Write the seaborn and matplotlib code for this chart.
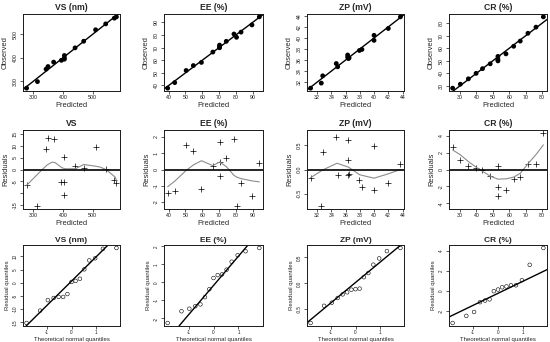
import numpy as np
import matplotlib
matplotlib.use("Agg")
import matplotlib.pyplot as plt
import seaborn as sns

# panel titles
top_titles = ["VS (nm)", "EE (%)", "ZP (mV)", "CR (%)"]
mid_titles = ["VS", "EE (%)", "ZP (mV)", "CR (%)"]

# predicted / observed / residual values
vs_pred = [278, 314.5, 343.6, 350, 369, 395, 405, 405, 405, 441, 470, 510, 544, 573, 580]
vs_obs = [271.4, 299.2, 352.1, 363.2, 381.9, 389.6, 399.6, 394.4, 410.1, 442.5, 470.7, 519.3, 544.3, 568.7, 574.2]
vs_res = [-6.6, -15.3, 8.5, 13.2, 12.9, -5.4, -5.4, -10.6, 5.1, 1.5, 0.7, 9.3, 0.3, -4.3, -5.8]

ee_pred = [39.4, 43.6, 50.4, 54.7, 59.5, 66.3, 70.3, 70.3, 70.3, 74.3, 78.9, 80.4, 83.1, 89.6, 94.0]
ee_obs = [37.9, 42.3, 51.9, 55.8, 58.3, 66.5, 72.0, 70.7, 69.9, 75.0, 80.8, 78.2, 82.3, 88.0, 94.4]
ee_res = [-1.46, -1.32, 1.50, 1.14, -1.22, 0.24, 1.72, 0.44, -0.38, 0.70, 1.90, -2.25, -0.82, -1.60, 0.40]

zp_pred = [31.1, 32.6, 32.8, 34.7, 34.9, 36.3, 36.3, 36.4, 36.5, 37.95, 38.3, 40.0, 40.0, 42.0, 43.7]
zp_obs = [30.93, 31.84, 33.16, 35.38, 34.79, 36.92, 36.5, 36.28, 36.4, 37.74, 37.93, 40.48, 39.57, 41.72, 43.82]
zp_res = [-0.17, -0.76, 0.36, 0.68, -0.11, 0.62, 0.20, -0.12, -0.10, -0.21, -0.37, 0.48, -0.43, -0.28, 0.12]

cr_pred = [25.5, 30.2, 35.1, 39.8, 43.7, 48.4, 53.1, 53.1, 53.1, 58.0, 62.7, 66.7, 71.4, 76.3, 80.8]
cr_obs = [28.13, 31.3, 35.57, 39.96, 43.7, 47.58, 53.49, 51.02, 49.92, 55.53, 61.6, 65.76, 71.99, 76.89, 85.11]
cr_res = [2.63, 1.10, 0.47, 0.16, 0.0, -0.82, 0.39, -2.08, -3.18, -2.47, -1.10, -0.94, 0.59, 0.59, 4.31]

# smoother traced in the residual panels
vs_smooth_x = [278, 302, 330, 347, 364, 375, 397, 408, 442, 470, 509, 526, 546, 576, 580]
vs_smooth_y = [-6.6, -3.6, -0.1, 1.9, 3.1, 2.8, 0.7, 0.3, 0.3, 2.1, 1.4, 1.0, -0.1, -3.2, -4.5]
ee_smooth_x = [39.4, 43.6, 50.4, 54.7, 59.5, 66.3, 70.3, 74.3, 78.9, 80.4, 83.1, 89.6, 94.0]
ee_smooth_y = [-1.06, -0.72, -0.06, 0.28, 0.54, 0.24, 0.46, 0.18, -0.36, -0.46, -0.56, -0.70, -0.76]
zp_smooth_x = [31.1, 32.8, 34.8, 36.4, 38.0, 40.0, 42.0, 43.7]
zp_smooth_y = [-0.17, -0.01, 0.13, 0.05, -0.11, -0.18, -0.09, 0.0]
cr_smooth_x = [25.5, 30.2, 35.1, 39.8, 43.7, 48.4, 53.1, 58.0, 62.7, 66.7, 71.4, 76.3, 80.8]
cr_smooth_y = [2.31, 1.73, 0.94, 0.27, -0.2, -0.78, -1.14, -1.10, -0.90, -0.45, 0.67, 1.76, 2.9]

# theoretical normal quantiles for 15 runs
qq_theory = [-1.834, -1.282, -0.967, -0.728, -0.524, -0.341, -0.168, 0.0,
             0.168, 0.341, 0.524, 0.728, 0.967, 1.282, 1.834]

# ticks
pred_ticks = [[300, 400, 500], [40, 50, 60, 70, 80, 90],
              [32, 34, 36, 38, 40, 42, 44], [30, 40, 50, 60, 70, 80]]
res_ticks = [[-15, -10, -5, 0, 5, 10, 15], [-2, -1, 0, 1, 2], [-0.5, 0.0, 0.5], [-4, -2, 0, 2, 4]]
res_labels = [["-15", "", "-5", "0", "5", "10", "15"], ["-2", "-1", "0", "1", "2"],
              ["-0.5", "0.0", "0.5"], ["-4", "-2", "0", "2", "4"]]
qq_yticks = [[-15, -10, -5, 0, 5, 10], [-2, -1, 0, 1, 2], [-0.5, 0.0, 0.5], [-2, 0, 2, 4]]
qq_ylabels = [["-15", "-10", "-5", "0", "5", "10"], ["-2", "-1", "0", "1", "2"],
              ["-0.5", "0.0", "0.5"], ["-2", "0", "2", "4"]]
qq_xticks = [-1, 0, 1]

preds = [vs_pred, ee_pred, zp_pred, cr_pred]
obss = [vs_obs, ee_obs, zp_obs, cr_obs]
ress = [vs_res, ee_res, zp_res, cr_res]
smooth_x = [vs_smooth_x, ee_smooth_x, zp_smooth_x, cr_smooth_x]
smooth_y = [vs_smooth_y, ee_smooth_y, zp_smooth_y, cr_smooth_y]

sns.set_theme(style="ticks")
plt.rcParams['font.family'] = ['Liberation Sans', 'DejaVu Sans']
plt.rcParams['axes.unicode_minus'] = False

fig = plt.figure(figsize=(5.5, 3.42), dpi=100)
W, H = 550, 342
col_left = [23, 164, 307, 449]
col_width = [97, 99, 97, 98]
row_top = [14, 130, 245]
row_height = [77, 79, 81]


def add_panel(r, c):
    l = col_left[c] / W
    b = 1 - (row_top[r] + row_height[r]) / H
    return fig.add_axes([l, b, col_width[c] / W, row_height[r] / H])


def pad_range(vals, frac=0.04):
    lo, hi = min(vals), max(vals)
    d = (hi - lo) * frac
    return lo - d, hi + d


def style(ax, fs):
    for s in ax.spines.values():
        s.set_visible(True)
        s.set_linewidth(0.7)
        s.set_color('#1a1a1a')
    ax.tick_params(length=2, width=0.5, colors='#1a1a1a', labelsize=fs)
    ax.tick_params(axis='x', pad=1)
    ax.tick_params(axis='y', pad=2)


for c in range(4):
    pred, obs, res = preds[c], obss[c], ress[c]

    # row 1: observed vs predicted
    ax = add_panel(0, c)
    sns.scatterplot(x=pred, y=obs, ax=ax, color='black', s=12, edgecolor='none')
    ax.set_xlim(*pad_range(pred))
    ax.set_ylim(*pad_range(obs))
    ax.axline((0, 0), slope=1, color='black', lw=1.0)
    ax.set_xticks(pred_ticks[c])
    ax.set_yticks(pred_ticks[c], labels=[str(t) for t in pred_ticks[c]], rotation=90, va='center')
    style(ax, 3.8)
    ax.set_title(top_titles[c], fontsize=6.2, fontweight='bold', pad=3)
    ax.set_xlabel("Predicted", fontsize=5.4, labelpad=1.5)
    ax.set_ylabel("Observed", fontsize=5.4, labelpad=2.5)

    # row 2: residuals vs predicted
    ax = add_panel(1, c)
    m = max(abs(v) for v in res) * 1.08
    sns.scatterplot(x=pred, y=res, ax=ax, color='black', marker='+', s=16, linewidth=0.5)
    sns.lineplot(x=smooth_x[c], y=smooth_y[c], ax=ax, color='#8c8c8c', lw=0.8,
                 sort=False, estimator=None)
    ax.axhline(0, color='black', lw=1.2)
    ax.set_xlim(*pad_range(pred))
    ax.set_ylim(-m, m)
    ax.set_xticks(pred_ticks[c])
    ax.set_yticks(res_ticks[c], labels=res_labels[c], rotation=90, va='center')
    style(ax, 3.8)
    ax.set_title(mid_titles[c], fontsize=6.2, fontweight='bold', pad=3)
    ax.set_xlabel("Predicted", fontsize=5.4, labelpad=1.5)
    ax.set_ylabel("Residuals", fontsize=5.4, labelpad=2.5)

    # row 3: normal Q-Q of residuals
    ax = add_panel(2, c)
    sample = np.sort(res)
    sns.scatterplot(x=qq_theory, y=sample, ax=ax, s=7, marker='o',
                    facecolor='none', edgecolor='black', linewidth=0.4)
    q1, q3 = np.percentile(res, [25, 75])
    slope = (q3 - q1) / (2 * 0.6745)
    ax.set_xlim(*pad_range(qq_theory))
    ax.set_ylim(*pad_range(sample))
    ax.axline((0, q1 + 0.6745 * slope), slope=slope, color='black', lw=1.0)
    ax.set_xticks(qq_xticks)
    ax.set_yticks(qq_yticks[c], labels=qq_ylabels[c], rotation=90, va='center')
    style(ax, 3.3)
    ax.set_title(top_titles[c], fontsize=6.0, fontweight='bold', pad=2.5)
    ax.set_xlabel("Theoretical normal quantiles", fontsize=4.3, labelpad=1.5)
    ax.set_ylabel("Residual quantiles", fontsize=4.3, labelpad=2)

fig.savefig("out.png", dpi=100, facecolor='white')
